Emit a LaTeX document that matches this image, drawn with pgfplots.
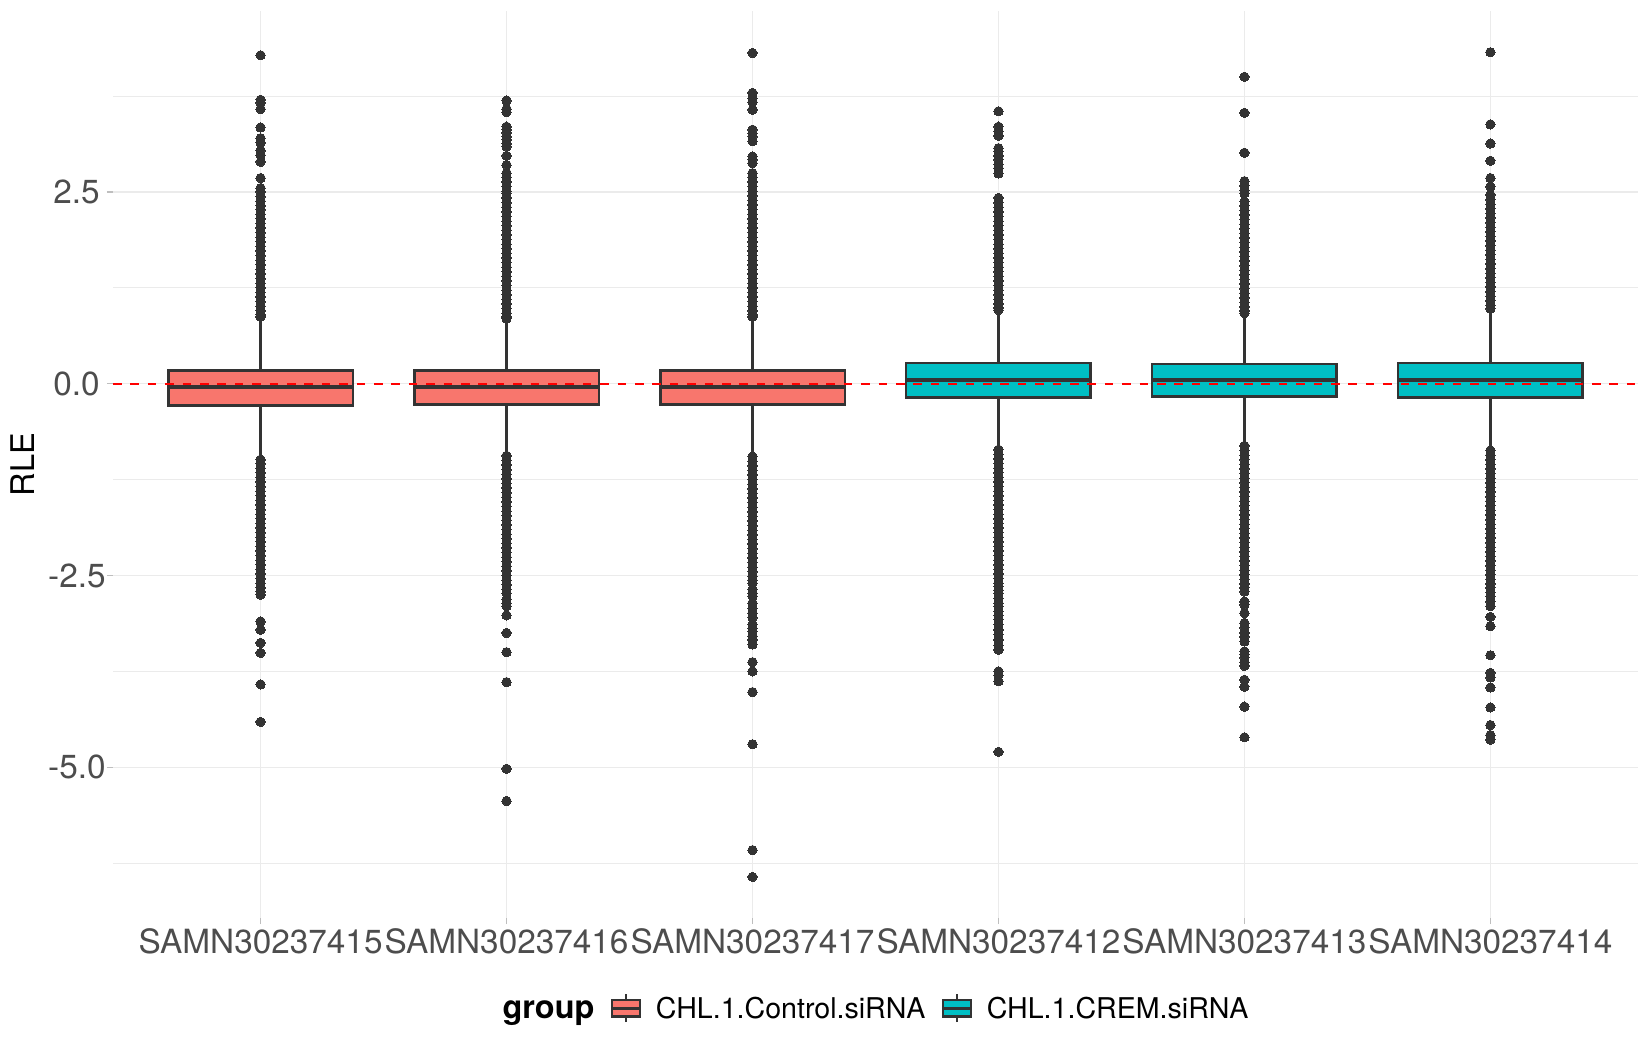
\documentclass[border=0pt]{standalone}
\usepackage{fontspec}
\setmainfont{TeX Gyre Heros}
\usepackage{pgfplots}
\pgfplotsset{compat=1.18}
\usepgfplotslibrary{statistics}
\definecolor{ggred}{HTML}{F8766D}
\definecolor{ggteal}{HTML}{00BFC4}
\definecolor{boxline}{HTML}{333333}
\definecolor{gridc}{HTML}{EBEBEB}
\definecolor{tickc}{HTML}{BEBEBE}
\definecolor{labc}{HTML}{4D4D4D}
\pgfplotsset{
  boxkey/.style={legend image code/.code={
      \draw[boxline, line width=1.2pt, solid] (7pt,-7pt) -- (7pt,7pt);
      \draw[boxline, line width=1.2pt, solid, fill=#1] (0pt,-4.1pt) rectangle (14pt,4.1pt);
      \draw[boxline, line width=1.5pt, solid] (0pt,0pt) -- (14pt,0pt);
      \path[draw=none, fill=none] (0pt,-7pt) rectangle (22pt,7pt);
  }},
  bx/.style={forget plot, draw=boxline, line width=1.25pt, solid},
  outl/.style={forget plot, only marks, color=boxline, mark=*, mark size=2.33pt, mark options={draw=boxline, fill=boxline, line width=0pt}},
}
\begin{document}
\begin{tikzpicture}
\begin{axis}[
  name=main,
  scale only axis,
  width=762.5pt, height=453.4pt,
  xmin=0.4, xmax=6.6, ymin=-6.965, ymax=4.855,
  axis line style={draw=none},
  xtick={1,2,3,4,5,6},
  xticklabels={SAMN30237415,SAMN30237416,SAMN30237417,SAMN30237412,SAMN30237413,SAMN30237414},
  ytick={-5,-2.5,0,2.5},
  yticklabels={-5.0\kern-3pt,-2.5\kern-3pt,0.0,2.5},
  minor ytick={-6.25,-3.75,-1.25,1.25,3.75},
  grid=both,
  major grid style={draw=gridc, line width=0.7pt},
  minor grid style={draw=gridc, line width=0.35pt},
  tick align=outside,
  major tick length=3pt, minor tick length=0pt,
  xtick pos=bottom, ytick pos=left,
  major tick style={draw=tickc, line width=0.7pt},
  ticklabel style={font=\fontsize{16.67}{20}\selectfont, text=labc, inner sep=0pt},
  xticklabel style={anchor=north, yshift=-2.1pt},
  yticklabel style={anchor=east, xshift=-3.5pt},
  ylabel={RLE},
  ylabel style={at={([xshift=-39pt]axis description cs:0,0.5)}, anchor=base, font=\fontsize{16.3}{20}\selectfont, text=black, inner sep=0pt},
  boxplot/draw direction=y,
  boxplot/every median/.style={line width=2.1pt},
  legend columns=-1,
  legend style={at={(0.5,-0.0995)}, anchor=center, draw=none, fill=none, inner sep=0pt,
    font=\fontsize{14.3}{17}\selectfont,
    nodes={inner sep=0pt, text height=10.3pt, text depth=0pt},
    /tikz/every even column/.append style={column sep=8pt}},
]
% boxes
\addplot[bx, fill=ggred, boxplot prepared={draw position=1, lower whisker=-0.96, lower quartile=-0.283, median=-0.048, upper quartile=0.173, upper whisker=0.85, box extend=0.75, whisker extend=0}] coordinates {};
\addplot[bx, fill=ggred, boxplot prepared={draw position=2, lower whisker=-0.91, lower quartile=-0.272, median=-0.048, upper quartile=0.169, upper whisker=0.83, box extend=0.75, whisker extend=0}] coordinates {};
\addplot[bx, fill=ggred, boxplot prepared={draw position=3, lower whisker=-0.92, lower quartile=-0.274, median=-0.048, upper quartile=0.169, upper whisker=0.85, box extend=0.75, whisker extend=0}] coordinates {};
\addplot[bx, fill=ggteal, boxplot prepared={draw position=4, lower whisker=-0.84, lower quartile=-0.182, median=0.052, upper quartile=0.270, upper whisker=0.94, box extend=0.75, whisker extend=0}] coordinates {};
\addplot[bx, fill=ggteal, boxplot prepared={draw position=5, lower whisker=-0.79, lower quartile=-0.165, median=0.052, upper quartile=0.257, upper whisker=0.90, box extend=0.75, whisker extend=0}] coordinates {};
\addplot[bx, fill=ggteal, boxplot prepared={draw position=6, lower whisker=-0.85, lower quartile=-0.182, median=0.045, upper quartile=0.270, upper whisker=0.96, box extend=0.75, whisker extend=0}] coordinates {};
% outliers
\addplot[outl] coordinates {
(1,4.28)(1,3.70)(1,3.66)(1,3.58)(1,3.34)(1,3.20)(1,3.14)(1,3.04)(1,2.98)(1,2.89)(1,2.68)(1,2.55)(1,2.50)(1,2.44)(1,2.38)(1,2.32)(1,2.27)(1,2.21)(1,2.15)(1,2.09)(1,2.03)(1,1.97)(1,1.91)(1,1.85)(1,1.79)(1,1.73)(1,1.67)(1,1.61)(1,1.55)(1,1.49)(1,1.43)(1,1.37)(1,1.31)(1,1.25)(1,1.19)(1,1.13)(1,1.07)(1,1.01)(1,0.95)(1,0.90)(1,0.87)
(1,-0.99)(1,-1.04)(1,-1.10)(1,-1.16)(1,-1.22)(1,-1.28)(1,-1.34)(1,-1.40)(1,-1.46)(1,-1.52)(1,-1.58)(1,-1.64)(1,-1.70)(1,-1.76)(1,-1.82)(1,-1.88)(1,-1.94)(1,-2.00)(1,-2.06)(1,-2.12)(1,-2.18)(1,-2.24)(1,-2.30)(1,-2.36)(1,-2.42)(1,-2.48)(1,-2.54)(1,-2.60)(1,-2.66)(1,-2.71)(1,-2.75)(1,-3.10)(1,-3.21)(1,-3.38)(1,-3.51)(1,-3.92)(1,-4.41)
};
\addplot[outl] coordinates {
(2,3.69)(2,3.58)(2,3.54)(2,3.35)(2,3.31)(2,3.27)(2,3.22)(2,3.18)(2,3.13)(2,3.09)(2,2.97)(2,2.85)(2,2.745)(2,2.69)(2,2.63)(2,2.57)(2,2.51)(2,2.48)(2,2.42)(2,2.36)(2,2.30)(2,2.24)(2,2.18)(2,2.12)(2,2.06)(2,2.00)(2,1.94)(2,1.88)(2,1.82)(2,1.76)(2,1.70)(2,1.64)(2,1.58)(2,1.52)(2,1.46)(2,1.40)(2,1.34)(2,1.28)(2,1.22)(2,1.16)(2,1.10)(2,1.04)(2,0.98)(2,0.92)(2,0.87)(2,0.85)
(2,-0.94)(2,-1.00)(2,-1.06)(2,-1.12)(2,-1.18)(2,-1.24)(2,-1.30)(2,-1.36)(2,-1.42)(2,-1.48)(2,-1.54)(2,-1.60)(2,-1.66)(2,-1.72)(2,-1.78)(2,-1.84)(2,-1.90)(2,-1.96)(2,-2.02)(2,-2.08)(2,-2.14)(2,-2.20)(2,-2.26)(2,-2.32)(2,-2.38)(2,-2.44)(2,-2.50)(2,-2.56)(2,-2.62)(2,-2.68)(2,-2.73)(2,-2.81)(2,-2.86)(2,-2.90)(2,-3.02)(2,-3.25)(2,-3.50)(2,-3.89)(2,-5.02)(2,-5.44)
};
\addplot[outl] coordinates {
(3,4.31)(3,3.79)(3,3.72)(3,3.67)(3,3.57)(3,3.31)(3,3.26)(3,3.22)(3,3.16)(3,2.96)(3,2.92)(3,2.875)(3,2.745)(3,2.69)(3,2.63)(3,2.57)(3,2.51)(3,2.45)(3,2.39)(3,2.33)(3,2.27)(3,2.21)(3,2.15)(3,2.09)(3,2.03)(3,1.97)(3,1.91)(3,1.85)(3,1.79)(3,1.73)(3,1.67)(3,1.61)(3,1.55)(3,1.49)(3,1.43)(3,1.37)(3,1.31)(3,1.25)(3,1.19)(3,1.13)(3,1.07)(3,1.01)(3,0.95)(3,0.90)(3,0.87)
(3,-0.95)(3,-1.01)(3,-1.07)(3,-1.13)(3,-1.19)(3,-1.25)(3,-1.31)(3,-1.37)(3,-1.43)(3,-1.49)(3,-1.55)(3,-1.61)(3,-1.67)(3,-1.73)(3,-1.79)(3,-1.85)(3,-1.91)(3,-1.97)(3,-2.03)(3,-2.09)(3,-2.15)(3,-2.21)(3,-2.27)(3,-2.33)(3,-2.39)(3,-2.45)(3,-2.51)(3,-2.56)(3,-2.60)(3,-2.68)(3,-2.73)(3,-2.77)(3,-2.86)(3,-2.93)(3,-2.99)(3,-3.05)(3,-3.14)(3,-3.19)(3,-3.23)(3,-3.29)(3,-3.34)(3,-3.40)(3,-3.63)(3,-3.75)(3,-4.02)(3,-4.70)(3,-6.08)(3,-6.43)
};
\addplot[outl] coordinates {
(4,3.55)(4,3.35)(4,3.29)(4,3.23)(4,3.07)(4,3.03)(4,2.97)(4,2.92)(4,2.86)(4,2.81)(4,2.74)(4,2.42)(4,2.36)(4,2.30)(4,2.24)(4,2.18)(4,2.12)(4,2.06)(4,2.00)(4,1.94)(4,1.88)(4,1.82)(4,1.76)(4,1.70)(4,1.64)(4,1.58)(4,1.52)(4,1.46)(4,1.40)(4,1.34)(4,1.28)(4,1.22)(4,1.16)(4,1.10)(4,1.04)(4,0.99)(4,0.96)
(4,-0.86)(4,-0.92)(4,-0.98)(4,-1.04)(4,-1.10)(4,-1.16)(4,-1.22)(4,-1.28)(4,-1.34)(4,-1.40)(4,-1.46)(4,-1.52)(4,-1.58)(4,-1.64)(4,-1.70)(4,-1.76)(4,-1.82)(4,-1.88)(4,-1.94)(4,-2.00)(4,-2.06)(4,-2.12)(4,-2.18)(4,-2.24)(4,-2.30)(4,-2.36)(4,-2.42)(4,-2.48)(4,-2.54)(4,-2.60)(4,-2.64)(4,-2.69)(4,-2.73)(4,-2.80)(4,-2.86)(4,-2.90)(4,-2.97)(4,-3.02)(4,-3.07)(4,-3.14)(4,-3.21)(4,-3.27)(4,-3.34)(4,-3.41)(4,-3.47)(4,-3.75)(4,-3.80)(4,-3.88)(4,-4.80)
};
\addplot[outl] coordinates {
(5,4.00)(5,3.53)(5,3.01)(5,2.64)(5,2.58)(5,2.52)(5,2.48)(5,2.375)(5,2.32)(5,2.26)(5,2.20)(5,2.14)(5,2.08)(5,2.02)(5,1.96)(5,1.90)(5,1.84)(5,1.78)(5,1.72)(5,1.66)(5,1.60)(5,1.54)(5,1.48)(5,1.42)(5,1.36)(5,1.30)(5,1.24)(5,1.18)(5,1.12)(5,1.06)(5,1.00)(5,0.95)(5,0.92)
(5,-0.81)(5,-0.87)(5,-0.93)(5,-0.99)(5,-1.05)(5,-1.11)(5,-1.17)(5,-1.23)(5,-1.29)(5,-1.35)(5,-1.41)(5,-1.47)(5,-1.53)(5,-1.59)(5,-1.65)(5,-1.71)(5,-1.77)(5,-1.83)(5,-1.89)(5,-1.95)(5,-2.01)(5,-2.07)(5,-2.13)(5,-2.19)(5,-2.25)(5,-2.31)(5,-2.37)(5,-2.43)(5,-2.49)(5,-2.55)(5,-2.61)(5,-2.66)(5,-2.71)(5,-2.84)(5,-2.88)(5,-2.99)(5,-3.12)(5,-3.18)(5,-3.25)(5,-3.30)(5,-3.36)(5,-3.49)(5,-3.53)(5,-3.57)(5,-3.63)(5,-3.68)(5,-3.86)(5,-3.95)(5,-4.21)(5,-4.61)
};
\addplot[outl] coordinates {
(6,4.32)(6,3.38)(6,3.13)(6,2.905)(6,2.68)(6,2.57)(6,2.46)(6,2.40)(6,2.34)(6,2.28)(6,2.22)(6,2.16)(6,2.10)(6,2.04)(6,1.98)(6,1.92)(6,1.86)(6,1.80)(6,1.74)(6,1.68)(6,1.62)(6,1.56)(6,1.50)(6,1.44)(6,1.38)(6,1.32)(6,1.26)(6,1.20)(6,1.14)(6,1.08)(6,1.02)(6,0.98)
(6,-0.87)(6,-0.93)(6,-0.99)(6,-1.05)(6,-1.11)(6,-1.17)(6,-1.23)(6,-1.29)(6,-1.35)(6,-1.41)(6,-1.47)(6,-1.53)(6,-1.59)(6,-1.65)(6,-1.71)(6,-1.77)(6,-1.83)(6,-1.89)(6,-1.95)(6,-2.01)(6,-2.07)(6,-2.13)(6,-2.19)(6,-2.25)(6,-2.31)(6,-2.37)(6,-2.43)(6,-2.49)(6,-2.55)(6,-2.61)(6,-2.66)(6,-2.72)(6,-2.77)(6,-2.84)(6,-2.90)(6,-3.04)(6,-3.16)(6,-3.54)(6,-3.77)(6,-3.83)(6,-3.96)(6,-4.22)(6,-4.45)(6,-4.58)(6,-4.64)
};
% reference line
\addplot[forget plot, color=red, line width=1.15pt, dash pattern=on 4.3pt off 4.4pt] coordinates {(0.4,0) (6.6,0)};
% legend
\addlegendimage{empty legend}
\addlegendentry{\fontsize{16.2}{19}\selectfont\bfseries group}
\addlegendimage{boxkey=ggred}
\addlegendentry{CHL.1.Control.siRNA}
\addlegendimage{boxkey=ggteal}
\addlegendentry{CHL.1.CREM.siRNA}
\end{axis}
\pgfresetboundingbox
\path (main.south west) ++(-56.5pt,-66pt) rectangle ++(825pt,525pt);
\end{tikzpicture}
\end{document}
